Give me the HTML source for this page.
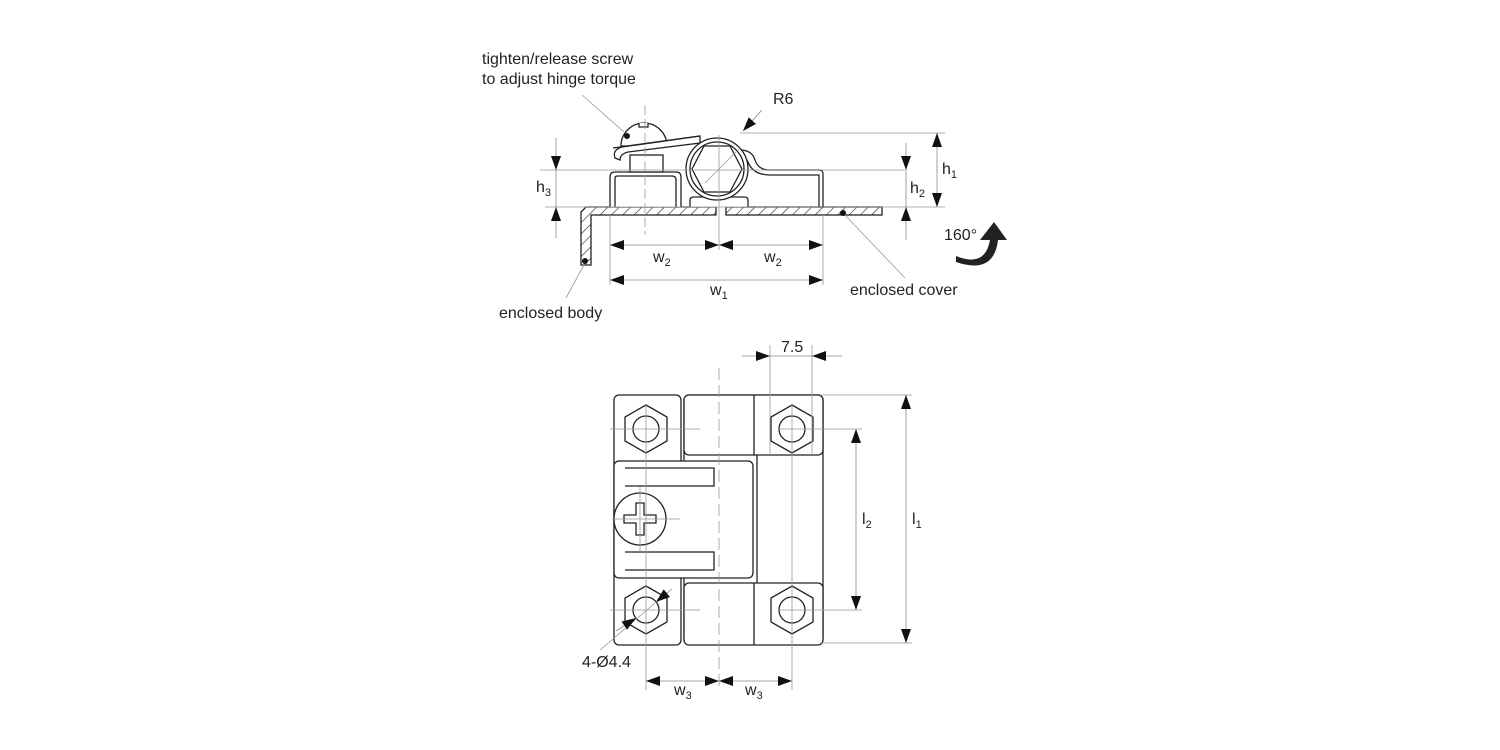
<!DOCTYPE html>
<html><head><meta charset="utf-8"><style>
html,body{margin:0;padding:0;background:#fff}
svg{display:block}
text{font-family:"Liberation Sans",Arial,sans-serif;fill:#222}
</style></head><body>
<svg width="1500" height="750" viewBox="0 0 1500 750" xmlns="http://www.w3.org/2000/svg">
<defs>
<marker id="a" viewBox="0 0 14 10" refX="14" refY="5" markerWidth="14" markerHeight="10" markerUnits="userSpaceOnUse" orient="auto-start-reverse"><path d="M0,0 L14,5 L0,10 z" fill="#111"/></marker>
<pattern id="h" width="8" height="8" patternUnits="userSpaceOnUse" patternTransform="rotate(45)"><line x1="0" y1="0" x2="0" y2="8" stroke="#222" stroke-width="1.2"/></pattern>
</defs>

<!-- TOP VIEW parts -->
<g stroke="#222" stroke-width="1.3" fill="#fff">
<path d="M586,207 L716,207 L716,215 L591,215 L591,265 L581,265 L581,212 Z" fill="url(#h)"/>
<rect x="726" y="207" width="156" height="8" fill="url(#h)"/>
<path d="M610,207 L610,177 Q610,172 615,172 L676,172 Q681,172 681,177 L681,207"/>
<path d="M615,207 L615,178 Q615,176 618,176 L672,176 Q676,176 676,180 L676,207" fill="none"/>
<rect x="630" y="155" width="33" height="17"/>
<path d="M621,146 A23,23 0 0 1 667,146 Z"/>
<path d="M639,123 L639,127 L648,127 L648,123" fill="#fff"/>
<path d="M615,158 Q612,150 622,147 L700,136 L700,143 L628,152 Q620,154 620,160 Z"/>
<path d="M613,148 L700,136" fill="none"/>
<path d="M690,207 L690,200 Q690,197 694,197 L744,197 Q748,197 748,200 L748,207"/>
<path d="M740,150 Q752,150 755,160 Q758,170 770,170 L819,170 Q823,170 823,174 L823,207 L819,207 L819,175 L770,175 Q753,175 748,162 Z"/>
<circle cx="717" cy="169" r="31"/>
<circle cx="717" cy="169" r="27"/>
<polygon points="692,169 704,146 730,146 742,169 730,192 704,192" fill="#fff"/>
</g>

<!-- BOTTOM VIEW -->
<g stroke="#222" stroke-width="1.3" fill="#fff">
<rect x="614" y="395" width="67" height="250" rx="5"/>
<rect x="684" y="395" width="139" height="248" rx="5"/>
<rect x="684" y="395" width="139" height="60" rx="5"/>
<rect x="684" y="583" width="139" height="62" rx="5"/>
<line x1="754" y1="395" x2="754" y2="455"/>
<line x1="754" y1="583" x2="754" y2="645"/>
<line x1="757" y1="455" x2="757" y2="583"/>
<rect x="614" y="461" width="139" height="117" rx="5"/>
<path d="M625,468 L714,468 L714,486 L625,486" fill="none"/>
<path d="M625,552 L714,552 L714,570 L625,570" fill="none"/>
<circle cx="640" cy="519" r="26"/>
<path d="M636,503 L644,503 L644,515 L656,515 L656,523 L644,523 L644,535 L636,535 L636,523 L624,523 L624,515 L636,515 Z"/>
<polygon points="646,405 667,417 667,441 646,453 625,441 625,417"/><circle cx="646" cy="429" r="13"/>
<polygon points="792,405 813,417 813,441 792,453 771,441 771,417"/><circle cx="792" cy="429" r="13"/>
<polygon points="646,586 667,598 667,622 646,634 625,622 625,598"/><circle cx="646" cy="610" r="13"/>
<polygon points="792,586 813,598 813,622 792,634 771,622 771,598"/><circle cx="792" cy="610" r="13"/>
</g>

<g fill="none" stroke="#999" stroke-width="0.8">
<line x1="645" y1="105" x2="645" y2="235" stroke-dasharray="10,4"/>
<line x1="719" y1="135" x2="719" y2="250"/>
<line x1="540" y1="170" x2="905" y2="170"/>
<line x1="740" y1="133" x2="945" y2="133"/>
<line x1="545" y1="207" x2="945" y2="207"/>
<line x1="610" y1="215" x2="610" y2="285"/>
<line x1="823" y1="215" x2="823" y2="285"/>
<line x1="705" y1="183" x2="740" y2="148"/>
<line x1="582" y1="95" x2="624" y2="132"/>
<line x1="843" y1="213" x2="905" y2="278"/>
<line x1="585" y1="263" x2="566" y2="298"/>
<line x1="719" y1="368" x2="719" y2="690" stroke-dasharray="12,5"/>
<line x1="770" y1="345" x2="770" y2="455"/>
<line x1="812" y1="345" x2="812" y2="455"/>
<line x1="820" y1="395" x2="912" y2="395"/>
<line x1="820" y1="643" x2="912" y2="643"/>
<line x1="778" y1="429" x2="862" y2="429"/>
<line x1="778" y1="610" x2="862" y2="610"/>
<line x1="646" y1="405" x2="646" y2="690"/>
<line x1="792" y1="405" x2="792" y2="690"/>
<line x1="610" y1="429" x2="682" y2="429"/><line x1="684" y1="429" x2="700" y2="429"/>
<line x1="610" y1="610" x2="682" y2="610"/><line x1="684" y1="610" x2="700" y2="610"/>
<line x1="612" y1="519" x2="680" y2="519"/><line x1="640" y1="487" x2="640" y2="551"/>
<line x1="600" y1="650" x2="668" y2="592"/>
</g>

<g stroke="#888" stroke-width="0.8" fill="none">
<line x1="610" y1="245" x2="719" y2="245" marker-start="url(#a)" marker-end="url(#a)"/>
<line x1="719" y1="245" x2="823" y2="245" marker-start="url(#a)" marker-end="url(#a)"/>
<line x1="610" y1="280" x2="823" y2="280" marker-start="url(#a)" marker-end="url(#a)"/>
<line x1="937" y1="133" x2="937" y2="207" marker-start="url(#a)" marker-end="url(#a)"/>
<line x1="906" y1="143" x2="906" y2="170" marker-end="url(#a)"/>
<line x1="906" y1="240" x2="906" y2="207" marker-end="url(#a)"/>
<line x1="906" y1="170" x2="906" y2="207"/>
<line x1="556" y1="138" x2="556" y2="170" marker-end="url(#a)"/>
<line x1="556" y1="238" x2="556" y2="207" marker-end="url(#a)"/>
<line x1="556" y1="170" x2="556" y2="207"/>
<line x1="742" y1="356" x2="770" y2="356" marker-end="url(#a)"/>
<line x1="842" y1="356" x2="812" y2="356" marker-end="url(#a)"/>
<line x1="770" y1="356" x2="812" y2="356"/>
<line x1="906" y1="395" x2="906" y2="643" marker-start="url(#a)" marker-end="url(#a)"/>
<line x1="856" y1="429" x2="856" y2="610" marker-start="url(#a)" marker-end="url(#a)"/>
<line x1="646" y1="681" x2="719" y2="681" marker-start="url(#a)" marker-end="url(#a)"/>
<line x1="719" y1="681" x2="792" y2="681" marker-start="url(#a)" marker-end="url(#a)"/>
<line x1="762" y1="110" x2="743" y2="131" marker-end="url(#a)"/>
<line x1="672" y1="589" x2="656" y2="602" marker-end="url(#a)"/>
<line x1="616" y1="631" x2="636" y2="618" marker-end="url(#a)"/>
</g>

<g fill="#111">
<circle cx="627" cy="136" r="3"/>
<circle cx="843" cy="213" r="3"/>
<circle cx="585" cy="261" r="3"/>
</g>

<path d="M956,256 Q985,268 990,240 L980,240 L994,222 L1007,240 L998,240 Q994,275 956,262 Z" fill="#222"/>

<g font-size="16">
<text x="482" y="64">tighten/release screw</text>
<text x="482" y="84">to adjust hinge torque</text>
<text x="773" y="104">R6</text>
<text x="850" y="295">enclosed cover</text>
<text x="499" y="318">enclosed body</text>
<text x="944" y="240">160°</text>
<text x="781" y="352">7.5</text>
<text x="582" y="667">4-Ø4.4</text>
<text x="653" y="262">w<tspan font-size="11" dy="4">2</tspan></text>
<text x="764" y="262">w<tspan font-size="11" dy="4">2</tspan></text>
<text x="710" y="295">w<tspan font-size="11" dy="4">1</tspan></text>
<text x="942" y="174">h<tspan font-size="11" dy="4">1</tspan></text>
<text x="910" y="193">h<tspan font-size="11" dy="4">2</tspan></text>
<text x="536" y="192">h<tspan font-size="11" dy="4">3</tspan></text>
<text x="862" y="524">l<tspan font-size="11" dy="4">2</tspan></text>
<text x="912" y="524">l<tspan font-size="11" dy="4">1</tspan></text>
<text x="674" y="695">w<tspan font-size="11" dy="4">3</tspan></text>
<text x="745" y="695">w<tspan font-size="11" dy="4">3</tspan></text>
</g>
</svg>
</body></html>
